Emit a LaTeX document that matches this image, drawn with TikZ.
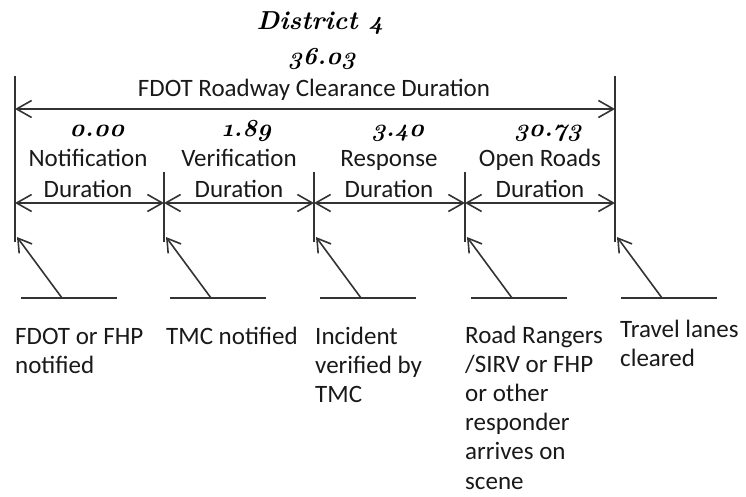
\documentclass[tikz,border=0pt]{standalone}
\usepackage{fontspec}
\setmainfont{Carlito}
\newfontfamily\numfont{lmroman10-bolditalic.otf}[Numbers=OldStyle]
\usetikzlibrary{arrows.meta}
\begin{document}
\begin{tikzpicture}[x=1pt,y=-1pt,
  txt/.style={font=\fontsize{25}{29.2}\selectfont, inner sep=0pt, align=left, text=black!90},
  ctxt/.style={font=\fontsize{25}{30}\selectfont, inner sep=0pt, align=center, text=black!90},
  num/.style={font=\fontsize{24.5}{26}\numfont, inner sep=0pt},
  ttl/.style={font=\fontsize{26}{30}\numfont, inner sep=0pt},
  bar/.style={line width=1.6pt, draw=black!80},
  dim/.style={line width=1.6pt, draw=black!80, {Straight Barb[length=15pt,width=17pt]}-{Straight Barb[length=15pt,width=17pt]}},
  ptr/.style={line width=1.6pt, draw=black!80, -{Straight Barb[length=13pt,width=16pt]}},
]
\useasboundingbox (0,0) rectangle (746,497);
% title
\node[ttl, anchor=base] (title) at (320,30) {District 4};
\node[num, anchor=base] (total) at (322,65) {36.03};
\node[ctxt, anchor=base] (fdot) at (314,97) {FDOT Roadway Clearance Duration};
% verticals
\foreach \i/\x in {0/15,4/615}{
  \coordinate (vt\i) at (\x,76);
  \coordinate (vb\i) at (\x,242);
  \draw[bar] (vt\i) -- (vb\i);
}
\foreach \i/\x in {1/164,2/314,3/465}{
  \coordinate (vt\i) at (\x,172);
  \coordinate (vb\i) at (\x,242);
  \draw[bar] (vt\i) -- (vb\i);
}
% overall dimension
\coordinate (L) at (15,109);
\coordinate (R) at (615,109);
\draw[dim] (L) -- (R);
% segment dimensions
\foreach \i/\x in {0/15,1/164,2/314,3/465,4/615}{
  \coordinate (m\i) at (\x,203);
}
\foreach \a/\b in {0/1,1/2,2/3,3/4}{
  \draw[dim] (m\a) -- (m\b);
}
% durations
\node[num, anchor=base] (n1) at (97,137) {0.00};
\node[num, anchor=base] (n2) at (247,137) {1.89};
\node[num, anchor=base] (n3) at (398,137) {3.40};
\node[num, anchor=base] (n4) at (548,137) {30.73};
\node[ctxt, anchor=base] (s1a) at (88,167) {Notification};
\node[ctxt, anchor=base] (s1b) at (88,197) {Duration};
\node[ctxt, anchor=base] (s2a) at (239,167) {Verification};
\node[ctxt, anchor=base] (s2b) at (239,197) {Duration};
\node[ctxt, anchor=base] (s3a) at (389,167) {Response};
\node[ctxt, anchor=base] (s3b) at (389,197) {Duration};
\node[ctxt, anchor=base] (s4a) at (540,167) {Open Roads};
\node[ctxt, anchor=base] (s4b) at (540,197) {Duration};
% event pointers
\foreach \i/\x in {0/15,1/164,2/314,3/465,4/615}{
  \coordinate (tip\i) at (\x+2,237);
  \coordinate (foot\i) at (\x+47,298);
  \coordinate (hl\i) at (\x+6,298);
  \coordinate (hr\i) at (\x+102,298);
  \draw[bar] (hl\i) -- (hr\i);
  \draw[ptr] (foot\i) -- (tip\i);
}
% event labels (base anchor = baseline of the last line)
\node[txt, anchor=base west] (e0) at (15,373.2) {FDOT or FHP\\notified};
\node[txt, anchor=base west] (e1) at (166,344) {TMC notified};
\node[txt, anchor=base west] (e2) at (315,402.4) {Incident\\verified by\\TMC};
\node[txt, anchor=base west] (e3) at (465,489) {Road Rangers\\/SIRV or FHP\\or other\\responder\\arrives on\\scene};
\node[txt, anchor=base west] (e4) at (620,366.2) {Travel lanes\\cleared};
\end{tikzpicture}
\end{document}
